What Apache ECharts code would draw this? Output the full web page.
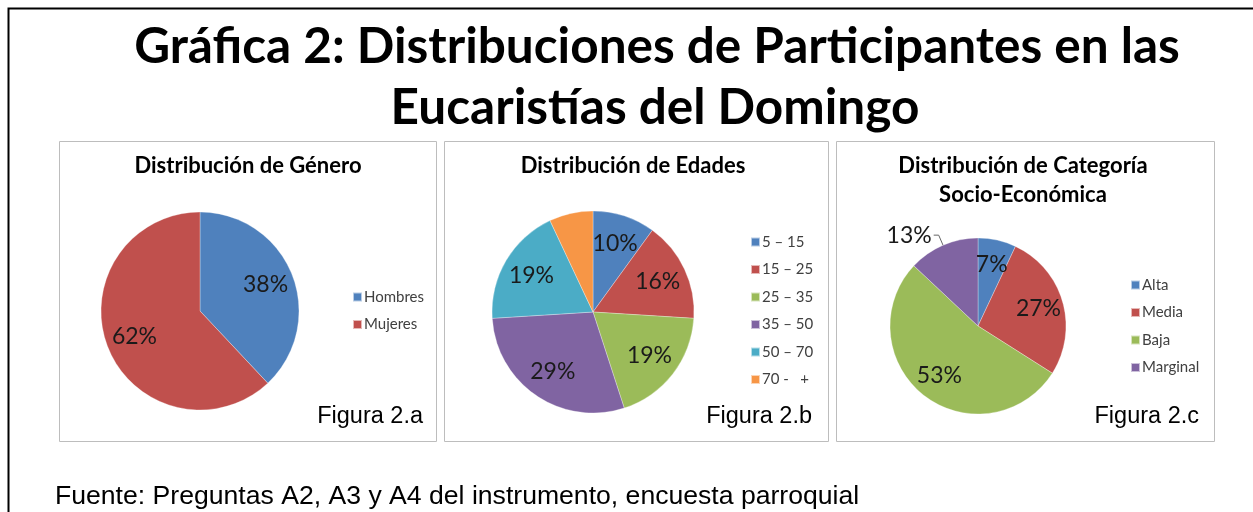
<!DOCTYPE html>
<html>
<head>
<meta charset="utf-8">
<script src="https://cdn.jsdelivr.net/npm/echarts@6/dist/echarts.min.js"></script>
<style>
  html, body { margin: 0; padding: 0; background: #fff; }
  #chart { width: 1253px; height: 512px; }
</style>
</head>
<body>
<div id="chart"></div>
<script>
// datos
const generoNames = ['Hombres', 'Mujeres'];
const generoValues = [38, 62];
const edadNames = ['5 – 15', '15 – 25', '25 – 35', '35 – 50', '50 – 70', '70 -   +'];
const edadValues = [10, 16, 19, 29, 19, 7];
const catNames = ['Alta', 'Media', 'Baja', 'Marginal'];
const catValues = [7, 27, 53, 13];

const colors = ['#4F81BD', '#C0504D', '#9BBB59', '#8064A2', '#4BACC6', '#F79646'];
const calibri = 'Lato, "Open Sans", sans-serif';
const arial = '"Liberation Sans", Arial, sans-serif';

const chart = echarts.init(document.getElementById('chart'));

// pie que dibuja los sectores
function pieSeries(names, values, center, r) {
    return {
        type: 'pie',
        center: center,
        radius: [0, r],
        startAngle: 90,
        clockwise: true,
        silent: true,
        label: { show: false },
        labelLine: { show: false },
        data: names.map((n, i) => ({
            name: n,
            value: values[i],
            itemStyle: { color: colors[i], borderColor: 'rgba(255,255,255,0.6)', borderWidth: 0.5 }
        }))
    };
}

// pie transparente solo para las etiquetas (a ~0.68 del radio)
function labelSeries(names, values, center, r, outsideIdx) {
    return {
        type: 'pie',
        center: center,
        radius: [Math.round(r * 0.36), r],
        startAngle: 90,
        clockwise: true,
        silent: true,
        itemStyle: { color: 'transparent' },
        label: {
            show: true,
            position: 'inside',
            formatter: '{c}%',
            fontFamily: calibri,
            fontSize: 23,
            color: '#1a1a1a'
        },
        labelLine: { show: false },
        data: names.map((n, i) => {
            const d = { name: n, value: values[i] };
            if (i !== outsideIdx) return d;
            return Object.assign(d, {
                label: { position: 'outside', distanceToLabelLine: 2 },
                labelLine: { show: true, length: 11, length2: 5, lineStyle: { color: '#666', width: 1 } }
            });
        })
    };
}

function legend(names, left, top) {
    return {
        data: names,
        orient: 'vertical',
        left: left,
        top: top,
        padding: 0,
        itemWidth: 9,
        itemHeight: 9,
        itemGap: 11.5,
        icon: 'rect',
        selectedMode: false,
        textStyle: { fontFamily: calibri, fontSize: 15, color: '#404040', lineHeight: 16, padding: [0, 0, 0, -3] }
    };
}

function box(x, y, w, h) {
    return { type: 'rect', shape: { x: x + 0.5, y: y + 0.5, width: w, height: h }, style: { fill: 'none', stroke: '#bdbdbd', lineWidth: 1 }, silent: true };
}

function txt(text, x, y, font, size, weight, align) {
    return {
        type: 'text', x: x, y: y, silent: true,
        style: { text: text, font: weight + ' ' + size + 'px ' + font, fill: '#000', align: align, verticalAlign: 'middle' }
    };
}

const option = {
    animation: false,
    legend: [
        legend(generoNames, 352, 289),
        legend(edadNames, 750, 234),
        legend(catNames, 1130, 277)
    ],
    graphic: [
        // marco exterior
        { type: 'polyline', shape: { points: [[8.5, 512], [8.5, 8.5], [1253, 8.5]] }, style: { stroke: '#000', lineWidth: 2, fill: 'none' }, silent: true },
        box(59, 141, 377, 300),
        box(444, 141, 384, 300),
        box(836, 141, 378, 300),
        txt('Gráfica 2: Distribuciones de Participantes en las', 657, 47, calibri, 49.5, 'bold', 'center'),
        txt('Eucaristías del Domingo', 655, 108, calibri, 49.5, 'bold', 'center'),
        txt('Distribución de Género', 248, 166, calibri, 22, 'bold', 'center'),
        txt('Distribución de Edades', 633, 166, calibri, 22, 'bold', 'center'),
        txt('Distribución de Categoría', 1023, 166, calibri, 22, 'bold', 'center'),
        txt('Socio-Económica', 1023, 195, calibri, 22, 'bold', 'center'),
        txt('Figura 2.a', 423, 417, arial, 23.5, 'normal', 'right'),
        txt('Figura 2.b', 812, 417, arial, 23.5, 'normal', 'right'),
        txt('Figura 2.c', 1199, 417, arial, 23.5, 'normal', 'right'),
        txt('Fuente: Preguntas A2, A3 y A4 del instrumento, encuesta parroquial', 55, 497, arial, 26.6, 'normal', 'left')
    ],
    series: [
        pieSeries(generoNames, generoValues, [200, 311], 99),
        pieSeries(edadNames, edadValues, [593, 312], 101),
        pieSeries(catNames, catValues, [978, 326], 88),
        labelSeries(generoNames, generoValues, [200, 311], 99, -1),
        labelSeries(edadNames, edadValues, [593, 312], 101, -1),
        labelSeries(catNames, catValues, [978, 326], 88, 3)
    ]
};

chart.setOption(option);
</script>
</body>
</html>
